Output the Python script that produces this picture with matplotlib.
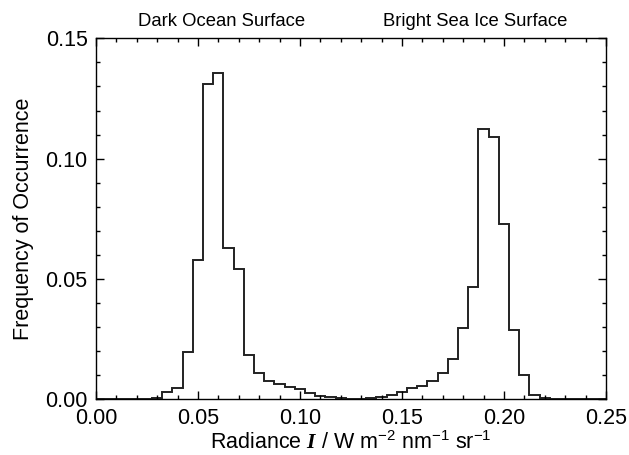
import numpy as np
import matplotlib
matplotlib.use("Agg")
import matplotlib.pyplot as plt
from matplotlib.ticker import MultipleLocator, FormatStrFormatter

plt.rcParams['font.family'] = ['Liberation Sans', 'DejaVu Sans']
plt.rcParams['mathtext.fontset'] = 'custom'
plt.rcParams['mathtext.rm'] = 'Liberation Sans'
plt.rcParams['mathtext.it'] = 'Liberation Sans:italic'
plt.rcParams['mathtext.bf'] = 'Liberation Serif:bold:italic'
plt.rcParams['mathtext.bfit'] = 'Liberation Serif:bold:italic'

# Histogram bin centres (radiance) and frequencies
bin_centers = [0.000, 0.005, 0.010, 0.015, 0.020, 0.025, 0.030, 0.035, 0.040, 0.045,
               0.050, 0.055, 0.060, 0.065, 0.070, 0.075, 0.080, 0.085, 0.090, 0.095,
               0.100, 0.105, 0.110, 0.115, 0.120, 0.125, 0.130, 0.135, 0.140, 0.145,
               0.150, 0.155, 0.160, 0.165, 0.170, 0.175, 0.180, 0.185, 0.190, 0.195,
               0.200, 0.205, 0.210, 0.215, 0.220, 0.225, 0.230, 0.235, 0.240, 0.245,
               0.250]
frequency = [0.0, 0.0, 0.0, 0.0, 0.0, 0.0001, 0.0006, 0.0032, 0.0048, 0.0198,
             0.058, 0.131, 0.1354, 0.063, 0.054, 0.0184, 0.011, 0.0078, 0.0064, 0.0052,
             0.0043, 0.0028, 0.0015, 0.0008, 0.0005, 0.0003, 0.0003, 0.0005, 0.0008, 0.0016,
             0.0030, 0.0045, 0.0057, 0.0077, 0.0108, 0.0167, 0.0298, 0.0468, 0.1124, 0.1088,
             0.0728, 0.0287, 0.0100, 0.0017, 0.0004, 0.0002, 0.0, 0.0, 0.0, 0.0,
             0.0]
bin_width = 0.005

region_labels = ["Dark Ocean Surface", "Bright Sea Ice Surface"]

fig = plt.figure(figsize=(6.29, 4.55), dpi=100)
ax = fig.add_axes([0.1526, 0.1224, 0.9634 - 0.1526, 0.9158 - 0.1224])

centers = np.array(bin_centers)
edges = np.concatenate([centers - bin_width / 2, [centers[-1] + bin_width / 2]])
ax.stairs(frequency, edges, color='#222222', linewidth=1.4, baseline=None)

ax.set_xlim(0.0, 0.25)
ax.set_ylim(0.0, 0.15)
ax.xaxis.set_major_locator(MultipleLocator(0.05))
ax.xaxis.set_minor_locator(MultipleLocator(0.01))
ax.yaxis.set_major_locator(MultipleLocator(0.05))
ax.yaxis.set_minor_locator(MultipleLocator(0.01))
ax.xaxis.set_major_formatter(FormatStrFormatter('%.2f'))
ax.yaxis.set_major_formatter(FormatStrFormatter('%.2f'))
ax.tick_params(which='both', direction='in', top=True, right=True, width=1.0, labelsize=15.5)
ax.tick_params(which='major', length=5.5, pad=6)
ax.tick_params(which='minor', length=2.8)
for s in ax.spines.values():
    s.set_linewidth(1.0)

ax.set_xlabel(r'Radiance $\mathbf{I}$ / W m$^{\mathregular{-2}}$ nm$^{\mathregular{-1}}$ sr$^{\mathregular{-1}}$',
              fontsize=15.5, labelpad=2)
ax.set_ylabel('Frequency of Occurrence', fontsize=15.5, labelpad=8)

fig.text(222 / 629, 1 - 22 / 455, region_labels[0], fontsize=13.3, ha='center', va='center')
fig.text(475 / 629, 1 - 22 / 455, region_labels[1], fontsize=13.3, ha='center', va='center')

fig.savefig('out.png', dpi=100)
